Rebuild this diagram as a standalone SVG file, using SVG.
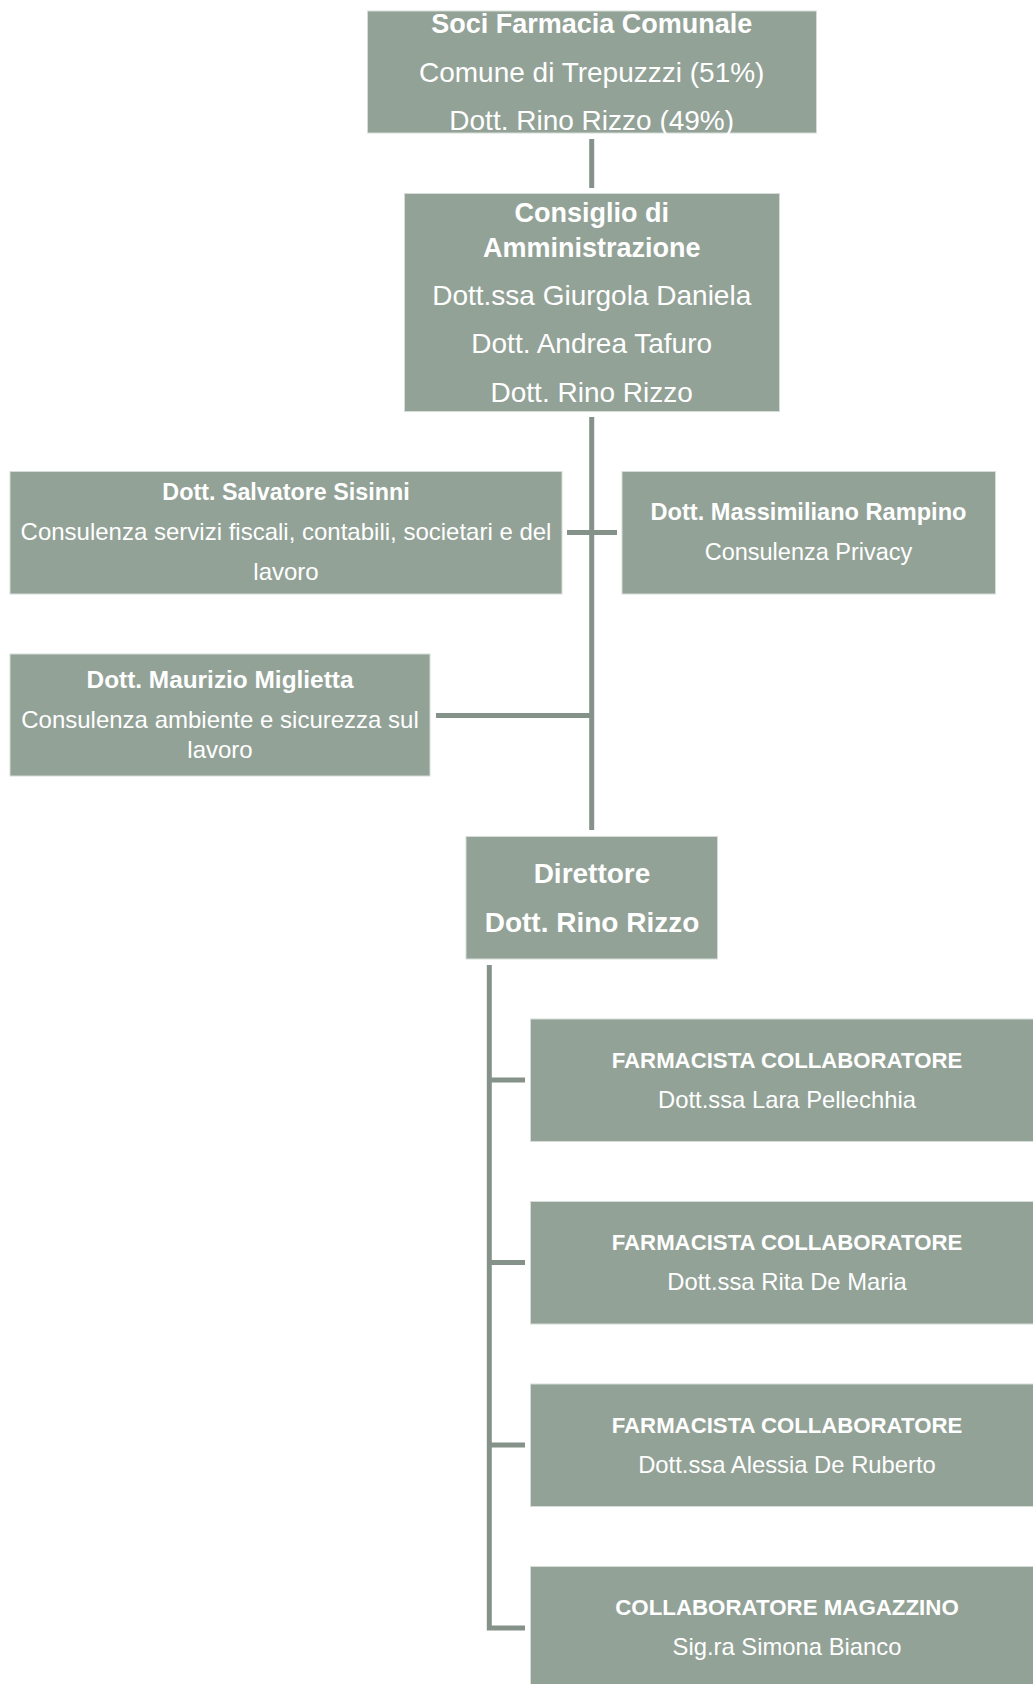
<svg xmlns="http://www.w3.org/2000/svg" width="1033" height="1684" viewBox="0 0 1033 1684">
<style>
.box{fill:#93a297;stroke:#d6ddd8;stroke-width:1}
.t{font-family:"Liberation Sans",Arial,sans-serif;fill:#ffffff;text-anchor:middle}
.b{font-weight:bold}
.conn{stroke:#84928a;stroke-width:5;fill:none}
</style>
<rect width="1033" height="1684" fill="#ffffff"/>
<g id="connectors">
<line class="conn" x1="591.7" y1="139" x2="591.7" y2="188"/>
<line class="conn" x1="591.7" y1="417" x2="591.7" y2="830"/>
<line class="conn" x1="567" y1="532.5" x2="617" y2="532.5"/>
<line class="conn" x1="436" y1="715.5" x2="591.7" y2="715.5"/>
<polyline class="conn" points="489.3,965 489.3,1628 525,1628"/>
<line class="conn" x1="489.3" y1="1080" x2="525" y2="1080"/>
<line class="conn" x1="489.3" y1="1262.5" x2="525" y2="1262.5"/>
<line class="conn" x1="489.3" y1="1445" x2="525" y2="1445"/>
</g>
<g id="soci">
<rect class="box" x="367.5" y="11" width="449" height="122"/>
<text class="t b" x="591.7" y="33" font-size="27">Soci Farmacia Comunale</text>
<text class="t" x="591.7" y="82" font-size="28">Comune di Trepuzzzi (51%)</text>
<text class="t" x="591.7" y="130" font-size="28">Dott. Rino Rizzo (49%)</text>
</g>
<g id="cda">
<rect class="box" x="404.5" y="193.5" width="375" height="218"/>
<text class="t b" x="591.7" y="222" font-size="27">Consiglio di</text>
<text class="t b" x="591.7" y="257" font-size="27">Amministrazione</text>
<text class="t" x="591.7" y="305" font-size="28">Dott.ssa Giurgola Daniela</text>
<text class="t" x="591.7" y="353" font-size="28">Dott. Andrea Tafuro</text>
<text class="t" x="591.7" y="402" font-size="28">Dott. Rino Rizzo</text>
</g>
<g id="sisinni">
<rect class="box" x="10" y="471.5" width="552" height="122.5"/>
<text class="t b" x="286" y="500" font-size="23.3">Dott. Salvatore Sisinni</text>
<text class="t" x="286" y="540" font-size="24">Consulenza servizi fiscali, contabili, societari e del</text>
<text class="t" x="286" y="580" font-size="24">lavoro</text>
</g>
<g id="rampino">
<rect class="box" x="622" y="471.5" width="373.5" height="122.5"/>
<text class="t b" x="808.5" y="520" font-size="23.6">Dott. Massimiliano Rampino</text>
<text class="t" x="808.5" y="560" font-size="23.5">Consulenza Privacy</text>
</g>
<g id="miglietta">
<rect class="box" x="10" y="654" width="420" height="122"/>
<text class="t b" x="220" y="688" font-size="24.4">Dott. Maurizio Miglietta</text>
<text class="t" x="220" y="728" font-size="24">Consulenza ambiente e sicurezza sul</text>
<text class="t" x="220" y="758" font-size="24">lavoro</text>
</g>
<g id="direttore">
<rect class="box" x="466" y="836.5" width="251.5" height="122.5"/>
<text class="t b" x="592" y="883" font-size="28">Direttore</text>
<text class="t b" x="592" y="931.5" font-size="28">Dott. Rino Rizzo</text>
</g>
<g id="farm1">
<rect class="box" x="530.5" y="1019" width="513" height="122.5"/>
<text class="t b" x="787" y="1067.5" font-size="22.2">FARMACISTA COLLABORATORE</text>
<text class="t" x="787" y="1107.5" font-size="23.8">Dott.ssa Lara Pellechhia</text>
</g>
<g id="farm2">
<rect class="box" x="530.5" y="1201.5" width="513" height="122.5"/>
<text class="t b" x="787" y="1250" font-size="22.2">FARMACISTA COLLABORATORE</text>
<text class="t" x="787" y="1290" font-size="23.8">Dott.ssa Rita De Maria</text>
</g>
<g id="farm3">
<rect class="box" x="530.5" y="1384" width="513" height="122.5"/>
<text class="t b" x="787" y="1433" font-size="22.2">FARMACISTA COLLABORATORE</text>
<text class="t" x="787" y="1473" font-size="23.8">Dott.ssa Alessia De Ruberto</text>
</g>
<g id="magazzino">
<rect class="box" x="530.5" y="1566.5" width="513" height="122.5"/>
<text class="t b" x="787" y="1615" font-size="22.3">COLLABORATORE MAGAZZINO</text>
<text class="t" x="787" y="1655" font-size="23.8">Sig.ra Simona Bianco</text>
</g>
</svg>
